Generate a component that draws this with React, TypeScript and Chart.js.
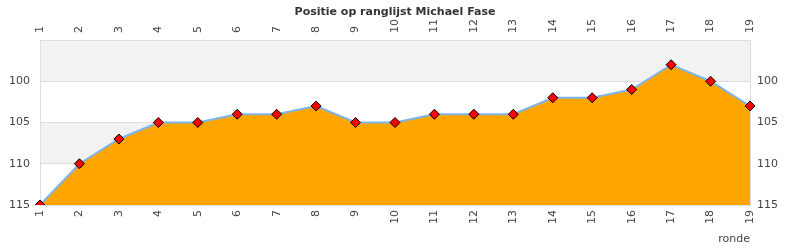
import React, { useEffect, useRef } from "react";
import { Chart, registerables } from "chart.js";

Chart.register(...registerables);

const rounds = ["1","2","3","4","5","6","7","8","9","10","11","12","13","14","15","16","17","18","19"];
const positions = [115, 110, 107, 105, 105, 104, 104, 103, 105, 105, 104, 104, 104, 102, 102, 101, 98, 100, 103];
const yMin = 95;
const yMax = 115;
const yStep = 5;
const grayBands = [[95, 100], [105, 110]];
const titleText = "Positie op ranglijst Michael Fase";
const xTitle = "ronde";

const FONT = "'DejaVu Sans', sans-serif";

const bandPlugin = {
  id: "bands",
  beforeDraw(chart: any) {
    const { ctx, chartArea } = chart;
    const y = chart.scales.y;
    ctx.save();
    ctx.fillStyle = "#f2f2f2";
    for (const [a, b] of grayBands) {
      const p1 = y.getPixelForValue(a);
      const p2 = y.getPixelForValue(b);
      ctx.fillRect(chartArea.left, Math.min(p1, p2), chartArea.right - chartArea.left, Math.abs(p2 - p1));
    }
    ctx.restore();
  },
  afterDraw(chart: any) {
    const { ctx } = chart;
    ctx.save();
    ctx.font = `bold 11px ${FONT}`;
    ctx.fillStyle = "#333";
    ctx.textAlign = "center";
    ctx.textBaseline = "alphabetic";
    ctx.fillText(titleText, (chart.chartArea.left + chart.chartArea.right) / 2, 15);
    ctx.restore();
  },
};

export default function App() {
  const ref = useRef<HTMLCanvasElement>(null);
  useEffect(() => {
    document.body.style.margin = "0";
    const tickFont = { family: FONT, size: 11 };
    const yTicksBase = {
      stepSize: yStep,
      color: "#444",
      font: tickFont,
      callback: (v: any) => (v === yMin ? "" : String(v)),
    };
    const xTicks = {
      color: "#444",
      font: tickFont,
      minRotation: 90,
      maxRotation: 90,
      autoSkip: false,
    };
    const chart = new Chart(ref.current!, {
      type: "line",
      data: {
        labels: rounds,
        datasets: [
          {
            data: positions,
            borderColor: "#7cb5ec",
            borderWidth: 2,
            backgroundColor: "#ffa500",
            fill: { value: yMax },
            tension: 0,
            pointStyle: "rectRot",
            pointRadius: 5,
            pointBackgroundColor: "#ff0000",
            pointBorderColor: "#000",
            pointBorderWidth: 1,
          },
        ],
      },
      options: {
        responsive: false,
        animation: false,
        layout: { padding: 0 },
        plugins: {
          legend: { display: false },
          tooltip: { enabled: false },
          title: { display: false },
        },
        scales: {
          x: {
            position: "bottom",
            grid: { display: false, drawTicks: false },
            border: { display: true, color: "#ddd" },
            ticks: { ...xTicks, padding: 5 },
            title: { display: true, text: xTitle, align: "end", color: "#444", font: tickFont, padding: { top: 0, bottom: 4 } },
            afterFit: (s: any) => { s.height = 45; },
          },
          x2: {
            position: "top",
            grid: { display: false, drawTicks: false },
            border: { display: true, color: "#ddd" },
            ticks: { ...xTicks, padding: 7, labelOffset: 13.2 },
            afterFit: (s: any) => { s.height = 40; },
          },
          y: {
            position: "left",
            reverse: true,
            min: yMin,
            max: yMax,
            grid: { color: "#ddd", drawTicks: false },
            border: { display: true, color: "#ddd" },
            ticks: { ...yTicksBase, padding: 10 },
            afterFit: (s: any) => { s.width = 40; },
          },
          y2: {
            position: "right",
            reverse: true,
            min: yMin,
            max: yMax,
            grid: { display: false, drawTicks: false },
            border: { display: true, color: "#ddd" },
            ticks: { ...yTicksBase, padding: 7 },
            afterFit: (s: any) => { s.width = 40; },
          },
        },
      } as any,
      plugins: [bandPlugin],
    });
    return () => chart.destroy();
  }, []);
  return (
    <div style={{ width: 790, height: 250 }}>
      <canvas ref={ref} width={790} height={250} style={{ display: "block" }} />
    </div>
  );
}
